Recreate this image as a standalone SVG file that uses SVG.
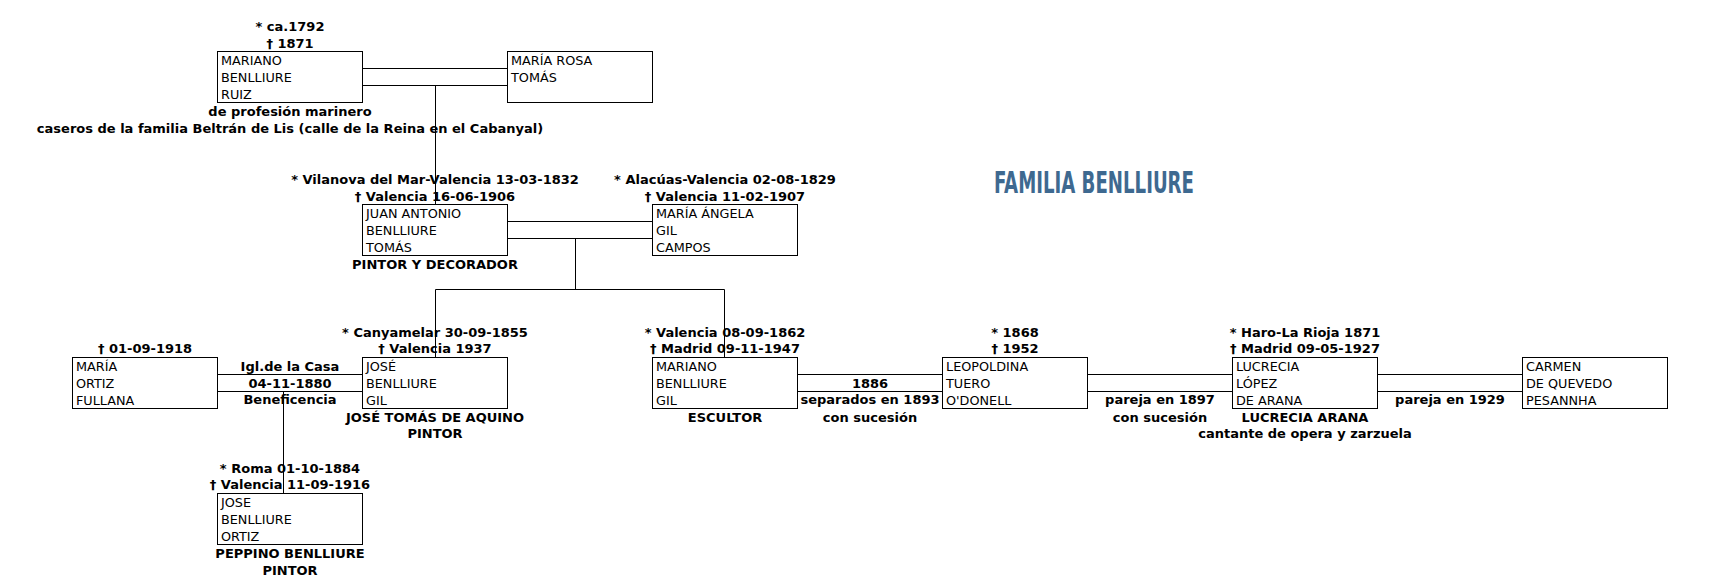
<svg xmlns="http://www.w3.org/2000/svg" width="1713" height="579" viewBox="0 0 1713 579">
<style>
.box{fill:#fff;stroke:#000;stroke-width:1}
.t{font-family:"DejaVu Sans",Verdana,sans-serif;font-size:12.8px;fill:#000}
.b{font-family:"DejaVu Sans",Verdana,sans-serif;font-size:13px;font-weight:bold;fill:#000;text-anchor:middle}
.c{fill:none;stroke:#000;stroke-width:1}
.title{font-family:"DejaVu Sans Condensed","DejaVu Sans",sans-serif;font-weight:bold;font-size:31px;fill:#3e6990}
</style>
<rect width="1713" height="579" fill="#fff"/>
<g id="connectors">
<path class="c" d="M362.5 68.5H507.5M362.5 85.5H507.5M435.5 85.5V204.5"/>
<path class="c" d="M507.5 221.5H652.5M507.5 238.5H652.5M575.5 238.5V289.5M435.5 289.5H724.5M435.5 289.5V357.5M724.5 289.5V357.5"/>
<path class="c" d="M217.5 374.5H362.5M217.5 391.5H362.5M283.5 391.5V493.5"/>
<path class="c" d="M797.5 374.5H942.5M797.5 391.5H942.5"/>
<path class="c" d="M1087.5 374.5H1232.5M1087.5 391.5H1232.5"/>
<path class="c" d="M1377.5 374.5H1522.5M1377.5 391.5H1522.5"/>
</g>
<g id="connector-labels">
<text class="b" x="290" y="370.7">Igl.de la Casa</text>
<text class="b" x="290" y="387.7">04-11-1880</text>
<text class="b" x="290" y="404.3">Beneficencia</text>
<text class="b" x="870" y="387.7">1886</text>
<text class="b" x="870" y="404.3">separados en 1893</text>
<text class="b" x="870" y="421.7">con sucesión</text>
<text class="b" x="1160" y="404.3">pareja en 1897</text>
<text class="b" x="1160" y="421.7">con sucesión</text>
<text class="b" x="1450" y="404.3">pareja en 1929</text>
</g>
<g id="title"><text class="title" x="994" y="193.3" textLength="200" lengthAdjust="spacingAndGlyphs">FAMILIA BENLLIURE</text></g>
<g id="mariano-benlliure-ruiz">
<text class="b" x="290" y="31">* ca.1792</text>
<text class="b" x="290" y="47.5">† 1871</text>
<rect class="box" x="217.5" y="51.5" width="145" height="51"/>
<text class="t" x="221" y="64.7">MARIANO</text>
<text class="t" x="221" y="81.7">BENLLIURE</text>
<text class="t" x="221" y="98.7">RUIZ</text>
<text class="b" x="290" y="116">de profesión marinero</text>
<text class="b" x="290" y="132.7">caseros de la familia Beltrán de Lis (calle de la Reina en el Cabanyal)</text>
</g>
<g id="maria-rosa-tomas">
<rect class="box" x="507.5" y="51.5" width="145" height="51"/>
<text class="t" x="511" y="64.7">MARÍA ROSA</text>
<text class="t" x="511" y="81.7">TOMÁS</text>
</g>
<g id="juan-antonio-benlliure-tomas">
<text class="b" x="435" y="184">* Vilanova del Mar-Valencia 13-03-1832</text>
<text class="b" x="435" y="200.5">† Valencia 16-06-1906</text>
<rect class="box" x="362.5" y="204.5" width="145" height="51"/>
<text class="t" x="366" y="217.7">JUAN ANTONIO</text>
<text class="t" x="366" y="234.7">BENLLIURE</text>
<text class="t" x="366" y="251.7">TOMÁS</text>
<text class="b" x="435" y="268.5">PINTOR Y DECORADOR</text>
</g>
<g id="maria-angela-gil-campos">
<text class="b" x="725" y="184">* Alacúas-Valencia 02-08-1829</text>
<text class="b" x="725" y="200.5">† Valencia 11-02-1907</text>
<rect class="box" x="652.5" y="204.5" width="145" height="51"/>
<text class="t" x="656" y="217.7">MARÍA ÁNGELA</text>
<text class="t" x="656" y="234.7">GIL</text>
<text class="t" x="656" y="251.7">CAMPOS</text>
</g>
<g id="maria-ortiz-fullana">
<text class="b" x="145" y="353.3">† 01-09-1918</text>
<rect class="box" x="72.5" y="357.5" width="145" height="51"/>
<text class="t" x="76" y="370.7">MARÍA</text>
<text class="t" x="76" y="387.7">ORTIZ</text>
<text class="t" x="76" y="404.7">FULLANA</text>
</g>
<g id="jose-benlliure-gil">
<text class="b" x="435" y="337.3">* Canyamelar 30-09-1855</text>
<text class="b" x="435" y="353.3">† Valencia 1937</text>
<rect class="box" x="362.5" y="357.5" width="145" height="51"/>
<text class="t" x="366" y="370.7">JOSÉ</text>
<text class="t" x="366" y="387.7">BENLLIURE</text>
<text class="t" x="366" y="404.7">GIL</text>
<text class="b" x="435" y="421.7">JOSÉ TOMÁS DE AQUINO</text>
<text class="b" x="435" y="438.3">PINTOR</text>
</g>
<g id="mariano-benlliure-gil">
<text class="b" x="725" y="337.3">* Valencia 08-09-1862</text>
<text class="b" x="725" y="353.3">† Madrid 09-11-1947</text>
<rect class="box" x="652.5" y="357.5" width="145" height="51"/>
<text class="t" x="656" y="370.7">MARIANO</text>
<text class="t" x="656" y="387.7">BENLLIURE</text>
<text class="t" x="656" y="404.7">GIL</text>
<text class="b" x="725" y="421.7">ESCULTOR</text>
</g>
<g id="leopoldina-tuero-odonell">
<text class="b" x="1015" y="337.3">* 1868</text>
<text class="b" x="1015" y="353.3">† 1952</text>
<rect class="box" x="942.5" y="357.5" width="145" height="51"/>
<text class="t" x="946" y="370.7">LEOPOLDINA</text>
<text class="t" x="946" y="387.7">TUERO</text>
<text class="t" x="946" y="404.7">O'DONELL</text>
</g>
<g id="lucrecia-lopez-de-arana">
<text class="b" x="1305" y="337.3">* Haro-La Rioja 1871</text>
<text class="b" x="1305" y="353.3">† Madrid 09-05-1927</text>
<rect class="box" x="1232.5" y="357.5" width="145" height="51"/>
<text class="t" x="1236" y="370.7">LUCRECIA</text>
<text class="t" x="1236" y="387.7">LÓPEZ</text>
<text class="t" x="1236" y="404.7">DE ARANA</text>
<text class="b" x="1305" y="421.7">LUCRECIA ARANA</text>
<text class="b" x="1305" y="438.3">cantante de opera y zarzuela</text>
</g>
<g id="carmen-de-quevedo-pesannha">
<rect class="box" x="1522.5" y="357.5" width="145" height="51"/>
<text class="t" x="1526" y="370.7">CARMEN</text>
<text class="t" x="1526" y="387.7">DE QUEVEDO</text>
<text class="t" x="1526" y="404.7">PESANNHA</text>
</g>
<g id="jose-benlliure-ortiz">
<text class="b" x="290" y="472.7">* Roma 01-10-1884</text>
<text class="b" x="290" y="489">† Valencia 11-09-1916</text>
<rect class="box" x="217.5" y="493.5" width="145" height="51"/>
<text class="t" x="221" y="506.7">JOSE</text>
<text class="t" x="221" y="523.7">BENLLIURE</text>
<text class="t" x="221" y="540.7">ORTIZ</text>
<text class="b" x="290" y="558">PEPPINO BENLLIURE</text>
<text class="b" x="290" y="574.5">PINTOR</text>
</g>
</svg>
